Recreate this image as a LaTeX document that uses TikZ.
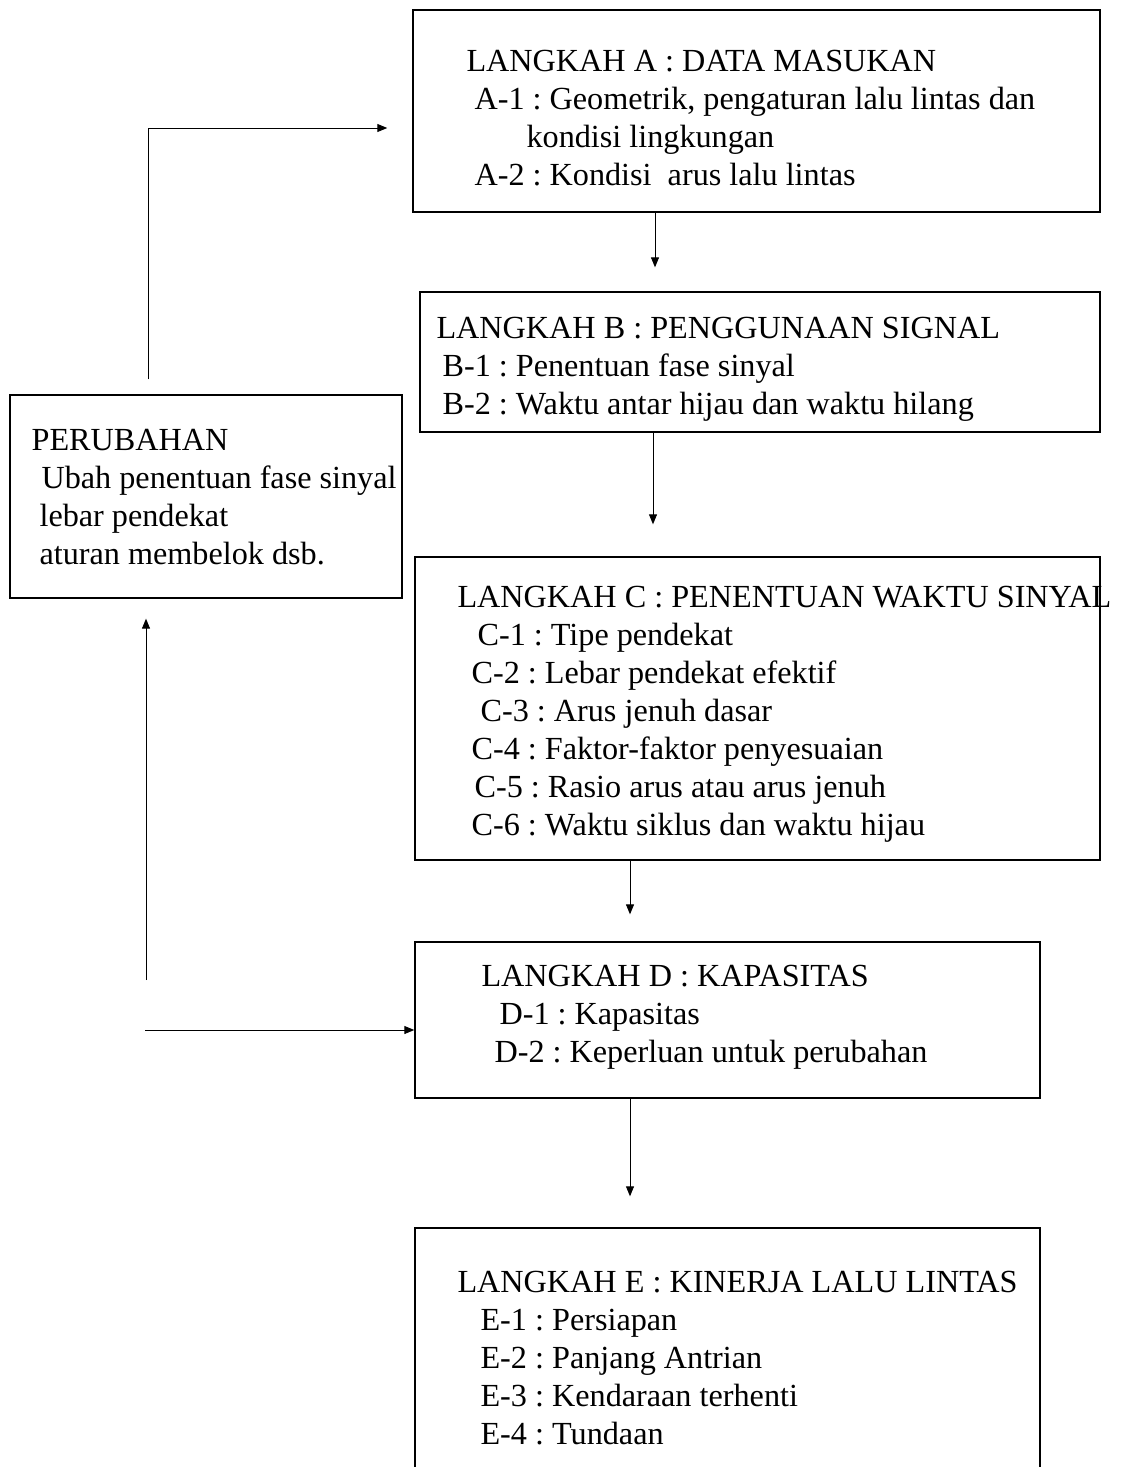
\documentclass[tikz,border=0pt]{standalone}
\usepackage{fontspec}
\setmainfont{Liberation Serif}
\usetikzlibrary{arrows.meta}
\newlength{\pxu}\setlength{\pxu}{0.025cm}
\frenchspacing

\begin{document}
\begin{tikzpicture}[x=0.025cm, y=-0.025cm,
  box/.style={draw, line width=0.9pt, inner sep=0pt},
  txt/.style={anchor=north west, inner sep=0pt, align=left, font=\fontsize{22.9}{27}\selectfont},
  flow/.style={line width=0.7pt, -{Triangle[length=2.5mm, width=2mm]}}]
\useasboundingbox (0,0) rectangle (1130,1467);
\clip (0,0) rectangle (1130,1467);
% boxes
\node[box, minimum width=17.175cm, minimum height=5.05cm] (A) at (756.5,111) {};
\node[box, minimum width=17cm, minimum height=3.5cm] (B) at (760,362) {};
\node[box, minimum width=17.125cm, minimum height=7.575cm] (C) at (757.5,708.5) {};
\node[box, minimum width=9.8cm, minimum height=5.075cm] (P) at (206,496.5) {};
\node[box, minimum width=15.625cm, minimum height=3.9cm] (D) at (727.5,1020) {};
\node[box, minimum width=15.625cm, minimum height=6.8cm] (E) at (727.5,1364) {};
% texts
\node[txt] (tA) at ([shift={(54,41)}]A.north west) {LANGKAH A : DATA MASUKAN\\
\hspace*{8\pxu}A-1 : Geometrik, pengaturan lalu lintas dan\\
\hspace*{60\pxu}kondisi lingkungan\\
\hspace*{8\pxu}A-2 : Kondisi~ arus lalu lintas};
\node[txt] (tB) at ([shift={(17,26)}]B.north west) {LANGKAH B : PENGGUNAAN SIGNAL\\
\hspace*{6\pxu}B-1 : Penentuan fase sinyal\\
\hspace*{6\pxu}B-2 : Waktu antar hijau dan waktu hilang};
\node[txt] (tC) at ([shift={(43,30)}]C.north west) {LANGKAH C : PENENTUAN WAKTU SINYAL\\
\hspace*{20\pxu}C-1 : Tipe pendekat\\
\hspace*{14\pxu}C-2 : Lebar pendekat efektif\\
\hspace*{23\pxu}C-3 : Arus jenuh dasar\\
\hspace*{14\pxu}C-4 : Faktor-faktor penyesuaian\\
\hspace*{17\pxu}C-5 : Rasio arus atau arus jenuh\\
\hspace*{14\pxu}C-6 : Waktu siklus dan waktu hijau};
\node[txt] (tP) at ([shift={(22,35)}]P.north west) {PERUBAHAN\\
\hspace*{10\pxu}Ubah penentuan fase sinyal\\
\hspace*{8\pxu}lebar pendekat\\
\hspace*{8\pxu}aturan membelok dsb.};
\node[txt] (tD) at ([shift={(67,24)}]D.north west) {LANGKAH D : KAPASITAS\\
\hspace*{18\pxu}D-1 : Kapasitas\\
\hspace*{13\pxu}D-2 : Keperluan untuk perubahan};
\node[txt] (tE) at ([shift={(43,44)}]E.north west) {LANGKAH E : KINERJA LALU LINTAS\\
\hspace*{23\pxu}E-1 : Persiapan\\
\hspace*{23\pxu}E-2 : Panjang Antrian\\
\hspace*{23\pxu}E-3 : Kendaraan terhenti\\
\hspace*{23\pxu}E-4 : Tundaan};
% arrows
\draw[flow, shorten >=0.6cm] (655,0 |- A.south) -- (655,0 |- B.north);
\draw[flow, shorten >=0.8cm] (653,0 |- B.south) -- (653,0 |- C.north);
\draw[flow, shorten >=0.675cm] (630,0 |- C.south) -- (630,0 |- D.north);
\draw[flow, shorten >=0.775cm] (630,0 |- D.south) -- (630,0 |- E.north);
% feedback
\draw[flow, shorten <=0.375cm, shorten >=0.625cm] (148,0 |- P.north) |- (A.west |- 0,128);
\coordinate (fb) at (146,980);
\coordinate (fc) at (145,1030);
\draw[flow, shorten >=0.5cm] (fb) -- (P.south -| fb);
\draw[flow] (fc) -- (D.west |- fc);
\end{tikzpicture}
\end{document}
